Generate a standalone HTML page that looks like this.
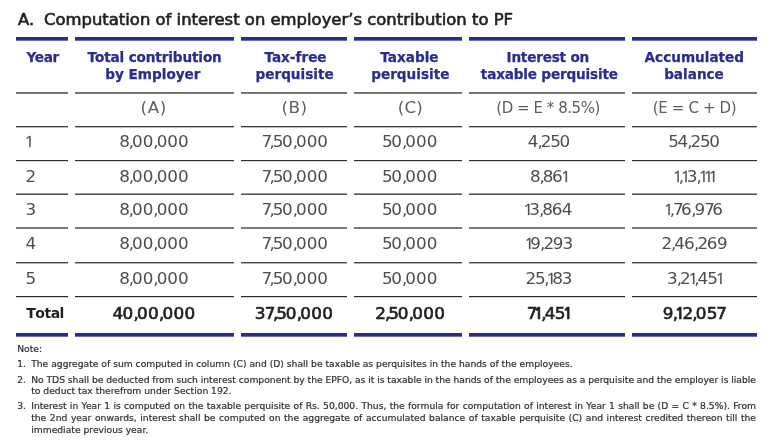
<!DOCTYPE html>
<html lang="en">
<head>
<meta charset="utf-8">
<title>Computation of interest on employer's contribution to PF</title>
<style>
*{margin:0;padding:0;box-sizing:border-box}
html,body{width:768px;height:448px;overflow:hidden;background:#fff}
body{position:relative;font-family:"DejaVu Sans","Liberation Sans",sans-serif;color:#333}
.tx{position:absolute;height:0;line-height:0;white-space:nowrap}
.title{font-size:15px;color:#231f20;letter-spacing:.74px;-webkit-text-stroke:.6px #231f20}
.bar{position:absolute;height:4px;background:linear-gradient(#2a2d90 75%,#6b6db0 75%)}
.ln{position:absolute;height:2px}
.hd{font-weight:700;font-size:13.6px;color:#2b2d8e;-webkit-text-stroke:.25px #2b2d8e}
.lt{font-size:15px;color:#5e5e5e}
.d{font-size:15px;color:#4d4d4d;font-kerning:none}
.tt{font-size:14px;font-weight:700;color:#231f20;font-kerning:none}
.tn{font-size:15px;color:#231f20;font-kerning:none;-webkit-text-stroke:.62px #231f20}
.tn .one{font-weight:700}
.one{font-family:'NanumGothic','Liberation Sans',sans-serif;position:relative;left:-1.3px}
.sx{display:inline-block}
.d .one{-webkit-text-stroke:.3px #4d4d4d}

.nt{font-size:9.2px;color:#2e2e2e;-webkit-text-stroke:.2px #2e2e2e}
.j{white-space:nowrap;text-align:justify;text-align-last:justify}
</style>
</head>
<body>
<div class="tx title" style="left:17.50px;width:40px;top:20.31px;text-align:left"><span class="sx" style="transform:scaleX(1.09);transform-origin:0 0;letter-spacing:0">A.</span></div>
<div class="tx title" style="left:44.30px;width:520px;top:20.31px;text-align:left"><span class="sx" style="transform:scaleX(1.095);transform-origin:0 0;letter-spacing:0">Computation of interest on employer’s contribution to PF</span></div>
<div class="bar" style="left:16px;width:52px;top:37px"></div>
<div class="bar" style="left:75px;width:159px;top:37px"></div>
<div class="bar" style="left:241px;width:106px;top:37px"></div>
<div class="bar" style="left:354px;width:108px;top:37px"></div>
<div class="bar" style="left:469px;width:156px;top:37px"></div>
<div class="bar" style="left:632px;width:125px;top:37px"></div>
<div class="tx hd" style="left:26.50px;width:60px;top:56.79px;text-align:left"><span style="letter-spacing:-.3px">Year</span></div>
<div class="tx hd" style="left:69.63px;width:170px;top:56.79px;text-align:center"><span style="letter-spacing:-0.13px">Total contribution</span></div>
<div class="tx hd" style="left:67.90px;width:170px;top:73.69px;text-align:center"><span style="letter-spacing:0px">by Employer</span></div>
<div class="tx hd" style="left:210.50px;width:170px;top:56.79px;text-align:center"><span style="letter-spacing:0px">Tax-free</span></div>
<div class="tx hd" style="left:209.60px;width:170px;top:73.69px;text-align:center"><span style="letter-spacing:0px">perquisite</span></div>
<div class="tx hd" style="left:324.40px;width:170px;top:56.79px;text-align:center"><span style="letter-spacing:0px">Taxable</span></div>
<div class="tx hd" style="left:325.30px;width:170px;top:73.69px;text-align:center"><span style="letter-spacing:0px">perquisite</span></div>
<div class="tx hd" style="left:462.80px;width:170px;top:56.79px;text-align:center"><span style="letter-spacing:-0.2px">Interest on</span></div>
<div class="tx hd" style="left:464.31px;width:170px;top:73.69px;text-align:center"><span style="letter-spacing:-0.18px">taxable perquisite</span></div>
<div class="tx hd" style="left:609.30px;width:170px;top:56.79px;text-align:center"><span style="letter-spacing:0px">Accumulated</span></div>
<div class="tx hd" style="left:609.00px;width:170px;top:73.69px;text-align:center"><span style="letter-spacing:0px">balance</span></div>
<div class="ln" style="left:16px;width:52px;top:92px;background:linear-gradient(#6a6a6a 50%,#808080 50%)"></div>
<div class="ln" style="left:75px;width:159px;top:92px;background:linear-gradient(#6a6a6a 50%,#808080 50%)"></div>
<div class="ln" style="left:241px;width:106px;top:92px;background:linear-gradient(#6a6a6a 50%,#808080 50%)"></div>
<div class="ln" style="left:354px;width:108px;top:92px;background:linear-gradient(#6a6a6a 50%,#808080 50%)"></div>
<div class="ln" style="left:469px;width:156px;top:92px;background:linear-gradient(#6a6a6a 50%,#808080 50%)"></div>
<div class="ln" style="left:632px;width:125px;top:92px;background:linear-gradient(#6a6a6a 50%,#808080 50%)"></div>
<div class="ln" style="left:16px;width:52px;top:126px;background:linear-gradient(#3e3e3e 50%,#bdbdbd 50%)"></div>
<div class="ln" style="left:75px;width:159px;top:126px;background:linear-gradient(#3e3e3e 50%,#bdbdbd 50%)"></div>
<div class="ln" style="left:241px;width:106px;top:126px;background:linear-gradient(#3e3e3e 50%,#bdbdbd 50%)"></div>
<div class="ln" style="left:354px;width:108px;top:126px;background:linear-gradient(#3e3e3e 50%,#bdbdbd 50%)"></div>
<div class="ln" style="left:469px;width:156px;top:126px;background:linear-gradient(#3e3e3e 50%,#bdbdbd 50%)"></div>
<div class="ln" style="left:632px;width:125px;top:126px;background:linear-gradient(#3e3e3e 50%,#bdbdbd 50%)"></div>
<div class="ln" style="left:16px;width:52px;top:160px;background:linear-gradient(#2c2c2c 50%,#e0e0e0 50%)"></div>
<div class="ln" style="left:75px;width:159px;top:160px;background:linear-gradient(#2c2c2c 50%,#e0e0e0 50%)"></div>
<div class="ln" style="left:241px;width:106px;top:160px;background:linear-gradient(#2c2c2c 50%,#e0e0e0 50%)"></div>
<div class="ln" style="left:354px;width:108px;top:160px;background:linear-gradient(#2c2c2c 50%,#e0e0e0 50%)"></div>
<div class="ln" style="left:469px;width:156px;top:160px;background:linear-gradient(#2c2c2c 50%,#e0e0e0 50%)"></div>
<div class="ln" style="left:632px;width:125px;top:160px;background:linear-gradient(#2c2c2c 50%,#e0e0e0 50%)"></div>
<div class="ln" style="left:16px;width:52px;top:193px;background:linear-gradient(#9a9a9a 50%,#555555 50%)"></div>
<div class="ln" style="left:75px;width:159px;top:193px;background:linear-gradient(#9a9a9a 50%,#555555 50%)"></div>
<div class="ln" style="left:241px;width:106px;top:193px;background:linear-gradient(#9a9a9a 50%,#555555 50%)"></div>
<div class="ln" style="left:354px;width:108px;top:193px;background:linear-gradient(#9a9a9a 50%,#555555 50%)"></div>
<div class="ln" style="left:469px;width:156px;top:193px;background:linear-gradient(#9a9a9a 50%,#555555 50%)"></div>
<div class="ln" style="left:632px;width:125px;top:193px;background:linear-gradient(#9a9a9a 50%,#555555 50%)"></div>
<div class="ln" style="left:16px;width:52px;top:227px;background:linear-gradient(#7a7a7a 50%,#7a7a7a 50%)"></div>
<div class="ln" style="left:75px;width:159px;top:227px;background:linear-gradient(#7a7a7a 50%,#7a7a7a 50%)"></div>
<div class="ln" style="left:241px;width:106px;top:227px;background:linear-gradient(#7a7a7a 50%,#7a7a7a 50%)"></div>
<div class="ln" style="left:354px;width:108px;top:227px;background:linear-gradient(#7a7a7a 50%,#7a7a7a 50%)"></div>
<div class="ln" style="left:469px;width:156px;top:227px;background:linear-gradient(#7a7a7a 50%,#7a7a7a 50%)"></div>
<div class="ln" style="left:632px;width:125px;top:227px;background:linear-gradient(#7a7a7a 50%,#7a7a7a 50%)"></div>
<div class="ln" style="left:16px;width:52px;top:262px;background:linear-gradient(#4a4a4a 50%,#b0b0b0 50%)"></div>
<div class="ln" style="left:75px;width:159px;top:262px;background:linear-gradient(#4a4a4a 50%,#b0b0b0 50%)"></div>
<div class="ln" style="left:241px;width:106px;top:262px;background:linear-gradient(#4a4a4a 50%,#b0b0b0 50%)"></div>
<div class="ln" style="left:354px;width:108px;top:262px;background:linear-gradient(#4a4a4a 50%,#b0b0b0 50%)"></div>
<div class="ln" style="left:469px;width:156px;top:262px;background:linear-gradient(#4a4a4a 50%,#b0b0b0 50%)"></div>
<div class="ln" style="left:632px;width:125px;top:262px;background:linear-gradient(#4a4a4a 50%,#b0b0b0 50%)"></div>
<div class="ln" style="left:16px;width:52px;top:296px;background:linear-gradient(#252525 50%,#d8d8d8 50%)"></div>
<div class="ln" style="left:75px;width:159px;top:296px;background:linear-gradient(#252525 50%,#d8d8d8 50%)"></div>
<div class="ln" style="left:241px;width:106px;top:296px;background:linear-gradient(#252525 50%,#d8d8d8 50%)"></div>
<div class="ln" style="left:354px;width:108px;top:296px;background:linear-gradient(#252525 50%,#d8d8d8 50%)"></div>
<div class="ln" style="left:469px;width:156px;top:296px;background:linear-gradient(#252525 50%,#d8d8d8 50%)"></div>
<div class="ln" style="left:632px;width:125px;top:296px;background:linear-gradient(#252525 50%,#d8d8d8 50%)"></div>
<div class="tx lt" style="left:68.95px;width:170px;top:108.01px;text-align:center"><span class="sx" style="transform:scaleX(1.12);letter-spacing:0.5px">(A)</span></div>
<div class="tx lt" style="left:210.00px;width:170px;top:108.01px;text-align:center"><span class="sx" style="transform:scaleX(1.12);letter-spacing:0.4px">(B)</span></div>
<div class="tx lt" style="left:325.20px;width:170px;top:108.01px;text-align:center"><span class="sx" style="transform:scaleX(1.12);letter-spacing:0.2px">(C)</span></div>
<div class="tx lt" style="left:463.07px;width:170px;top:108.01px;text-align:center"><span class="sx" style="transform:scaleX(1.0);letter-spacing:-0.46px">(D = E * 8.5%)</span></div>
<div class="tx lt" style="left:609.53px;width:170px;top:108.01px;text-align:center"><span class="sx" style="transform:scaleX(1.0);letter-spacing:-0.34px">(E = C + D)</span></div>
<div class="tx d" style="left:26.20px;width:40px;top:141.81px;text-align:left"><span class="sx" style="transform:scaleX(1.12)"><span class="one" style="letter-spacing:-4.76px">1</span></span></div>
<div class="tx d" style="left:68.50px;width:170px;top:141.81px;text-align:center"><span class="sx" style="transform:scaleX(1.12)"><span style="letter-spacing:-1.16px">8</span><span style="letter-spacing:-1.82px">,</span><span style="letter-spacing:-0.01px">00</span><span style="letter-spacing:-1.82px">,</span><span style="letter-spacing:-0.01px">000</span></span></div>
<div class="tx d" style="left:209.50px;width:170px;top:141.81px;text-align:center"><span class="sx" style="transform:scaleX(1.12)"><span style="letter-spacing:-2.43px">7</span><span style="letter-spacing:-1.82px">,</span><span style="letter-spacing:-1.28px">5</span><span style="letter-spacing:-0.01px">0</span><span style="letter-spacing:-1.82px">,</span><span style="letter-spacing:-0.01px">000</span></span></div>
<div class="tx d" style="left:325.00px;width:170px;top:141.81px;text-align:center"><span class="sx" style="transform:scaleX(1.12)"><span style="letter-spacing:-1.28px">5</span><span style="letter-spacing:-0.01px">0</span><span style="letter-spacing:-1.82px">,</span><span style="letter-spacing:-0.01px">000</span></span></div>
<div class="tx d" style="left:463.50px;width:170px;top:141.81px;text-align:center"><span class="sx" style="transform:scaleX(1.12)"><span style="letter-spacing:-0.84px">4</span><span style="letter-spacing:-1.82px">,</span><span style="letter-spacing:-1.18px">2</span><span style="letter-spacing:-1.28px">5</span><span style="letter-spacing:-0.01px">0</span></span></div>
<div class="tx d" style="left:609.00px;width:170px;top:141.81px;text-align:center"><span class="sx" style="transform:scaleX(1.12)"><span style="letter-spacing:-1.28px">5</span><span style="letter-spacing:-0.84px">4</span><span style="letter-spacing:-1.82px">,</span><span style="letter-spacing:-1.18px">2</span><span style="letter-spacing:-1.28px">5</span><span style="letter-spacing:-0.01px">0</span></span></div>
<div class="tx d" style="left:26.20px;width:40px;top:176.81px;text-align:left"><span class="sx" style="transform:scaleX(1.12)"><span style="letter-spacing:-1.18px">2</span></span></div>
<div class="tx d" style="left:68.50px;width:170px;top:176.81px;text-align:center"><span class="sx" style="transform:scaleX(1.12)"><span style="letter-spacing:-1.16px">8</span><span style="letter-spacing:-1.82px">,</span><span style="letter-spacing:-0.01px">00</span><span style="letter-spacing:-1.82px">,</span><span style="letter-spacing:-0.01px">000</span></span></div>
<div class="tx d" style="left:209.50px;width:170px;top:176.81px;text-align:center"><span class="sx" style="transform:scaleX(1.12)"><span style="letter-spacing:-2.43px">7</span><span style="letter-spacing:-1.82px">,</span><span style="letter-spacing:-1.28px">5</span><span style="letter-spacing:-0.01px">0</span><span style="letter-spacing:-1.82px">,</span><span style="letter-spacing:-0.01px">000</span></span></div>
<div class="tx d" style="left:325.00px;width:170px;top:176.81px;text-align:center"><span class="sx" style="transform:scaleX(1.12)"><span style="letter-spacing:-1.28px">5</span><span style="letter-spacing:-0.01px">0</span><span style="letter-spacing:-1.82px">,</span><span style="letter-spacing:-0.01px">000</span></span></div>
<div class="tx d" style="left:463.50px;width:170px;top:176.81px;text-align:center"><span class="sx" style="transform:scaleX(1.12)"><span style="letter-spacing:-1.16px">8</span><span style="letter-spacing:-1.82px">,</span><span style="letter-spacing:-1.16px">8</span><span style="letter-spacing:-0.49px">6</span><span class="one" style="letter-spacing:-4.76px">1</span></span></div>
<div class="tx d" style="left:609.00px;width:170px;top:176.81px;text-align:center"><span class="sx" style="transform:scaleX(1.12)"><span class="one" style="letter-spacing:-4.76px">1</span><span style="letter-spacing:-1.82px">,</span><span class="one" style="letter-spacing:-4.76px">1</span><span style="letter-spacing:-0.96px">3</span><span style="letter-spacing:-1.82px">,</span><span class="one" style="letter-spacing:-4.76px">111</span></span></div>
<div class="tx d" style="left:26.20px;width:40px;top:210.31px;text-align:left"><span class="sx" style="transform:scaleX(1.12)"><span style="letter-spacing:-0.96px">3</span></span></div>
<div class="tx d" style="left:68.50px;width:170px;top:210.31px;text-align:center"><span class="sx" style="transform:scaleX(1.12)"><span style="letter-spacing:-1.16px">8</span><span style="letter-spacing:-1.82px">,</span><span style="letter-spacing:-0.01px">00</span><span style="letter-spacing:-1.82px">,</span><span style="letter-spacing:-0.01px">000</span></span></div>
<div class="tx d" style="left:209.50px;width:170px;top:210.31px;text-align:center"><span class="sx" style="transform:scaleX(1.12)"><span style="letter-spacing:-2.43px">7</span><span style="letter-spacing:-1.82px">,</span><span style="letter-spacing:-1.28px">5</span><span style="letter-spacing:-0.01px">0</span><span style="letter-spacing:-1.82px">,</span><span style="letter-spacing:-0.01px">000</span></span></div>
<div class="tx d" style="left:325.00px;width:170px;top:210.31px;text-align:center"><span class="sx" style="transform:scaleX(1.12)"><span style="letter-spacing:-1.28px">5</span><span style="letter-spacing:-0.01px">0</span><span style="letter-spacing:-1.82px">,</span><span style="letter-spacing:-0.01px">000</span></span></div>
<div class="tx d" style="left:463.50px;width:170px;top:210.31px;text-align:center"><span class="sx" style="transform:scaleX(1.12)"><span class="one" style="letter-spacing:-4.76px">1</span><span style="letter-spacing:-0.96px">3</span><span style="letter-spacing:-1.82px">,</span><span style="letter-spacing:-1.16px">8</span><span style="letter-spacing:-0.49px">6</span><span style="letter-spacing:-0.84px">4</span></span></div>
<div class="tx d" style="left:609.00px;width:170px;top:210.31px;text-align:center"><span class="sx" style="transform:scaleX(1.12)"><span class="one" style="letter-spacing:-4.76px">1</span><span style="letter-spacing:-1.82px">,</span><span style="letter-spacing:-2.43px">7</span><span style="letter-spacing:-0.49px">6</span><span style="letter-spacing:-1.82px">,</span><span style="letter-spacing:-0.87px">9</span><span style="letter-spacing:-2.43px">7</span><span style="letter-spacing:-0.49px">6</span></span></div>
<div class="tx d" style="left:26.20px;width:40px;top:243.81px;text-align:left"><span class="sx" style="transform:scaleX(1.12)"><span style="letter-spacing:-0.84px">4</span></span></div>
<div class="tx d" style="left:68.50px;width:170px;top:243.81px;text-align:center"><span class="sx" style="transform:scaleX(1.12)"><span style="letter-spacing:-1.16px">8</span><span style="letter-spacing:-1.82px">,</span><span style="letter-spacing:-0.01px">00</span><span style="letter-spacing:-1.82px">,</span><span style="letter-spacing:-0.01px">000</span></span></div>
<div class="tx d" style="left:209.50px;width:170px;top:243.81px;text-align:center"><span class="sx" style="transform:scaleX(1.12)"><span style="letter-spacing:-2.43px">7</span><span style="letter-spacing:-1.82px">,</span><span style="letter-spacing:-1.28px">5</span><span style="letter-spacing:-0.01px">0</span><span style="letter-spacing:-1.82px">,</span><span style="letter-spacing:-0.01px">000</span></span></div>
<div class="tx d" style="left:325.00px;width:170px;top:243.81px;text-align:center"><span class="sx" style="transform:scaleX(1.12)"><span style="letter-spacing:-1.28px">5</span><span style="letter-spacing:-0.01px">0</span><span style="letter-spacing:-1.82px">,</span><span style="letter-spacing:-0.01px">000</span></span></div>
<div class="tx d" style="left:463.50px;width:170px;top:243.81px;text-align:center"><span class="sx" style="transform:scaleX(1.12)"><span class="one" style="letter-spacing:-4.76px">1</span><span style="letter-spacing:-0.87px">9</span><span style="letter-spacing:-1.82px">,</span><span style="letter-spacing:-1.18px">2</span><span style="letter-spacing:-0.87px">9</span><span style="letter-spacing:-0.96px">3</span></span></div>
<div class="tx d" style="left:609.00px;width:170px;top:243.81px;text-align:center"><span class="sx" style="transform:scaleX(1.12)"><span style="letter-spacing:-1.18px">2</span><span style="letter-spacing:-1.82px">,</span><span style="letter-spacing:-0.84px">4</span><span style="letter-spacing:-0.49px">6</span><span style="letter-spacing:-1.82px">,</span><span style="letter-spacing:-1.18px">2</span><span style="letter-spacing:-0.49px">6</span><span style="letter-spacing:-0.87px">9</span></span></div>
<div class="tx d" style="left:26.20px;width:40px;top:279.01px;text-align:left"><span class="sx" style="transform:scaleX(1.12)"><span style="letter-spacing:-1.28px">5</span></span></div>
<div class="tx d" style="left:68.50px;width:170px;top:279.01px;text-align:center"><span class="sx" style="transform:scaleX(1.12)"><span style="letter-spacing:-1.16px">8</span><span style="letter-spacing:-1.82px">,</span><span style="letter-spacing:-0.01px">00</span><span style="letter-spacing:-1.82px">,</span><span style="letter-spacing:-0.01px">000</span></span></div>
<div class="tx d" style="left:209.50px;width:170px;top:279.01px;text-align:center"><span class="sx" style="transform:scaleX(1.12)"><span style="letter-spacing:-2.43px">7</span><span style="letter-spacing:-1.82px">,</span><span style="letter-spacing:-1.28px">5</span><span style="letter-spacing:-0.01px">0</span><span style="letter-spacing:-1.82px">,</span><span style="letter-spacing:-0.01px">000</span></span></div>
<div class="tx d" style="left:325.00px;width:170px;top:279.01px;text-align:center"><span class="sx" style="transform:scaleX(1.12)"><span style="letter-spacing:-1.28px">5</span><span style="letter-spacing:-0.01px">0</span><span style="letter-spacing:-1.82px">,</span><span style="letter-spacing:-0.01px">000</span></span></div>
<div class="tx d" style="left:463.50px;width:170px;top:279.01px;text-align:center"><span class="sx" style="transform:scaleX(1.12)"><span style="letter-spacing:-1.18px">2</span><span style="letter-spacing:-1.28px">5</span><span style="letter-spacing:-1.82px">,</span><span class="one" style="letter-spacing:-4.76px">1</span><span style="letter-spacing:-1.16px">8</span><span style="letter-spacing:-0.96px">3</span></span></div>
<div class="tx d" style="left:609.00px;width:170px;top:279.01px;text-align:center"><span class="sx" style="transform:scaleX(1.12)"><span style="letter-spacing:-0.96px">3</span><span style="letter-spacing:-1.82px">,</span><span style="letter-spacing:-1.18px">2</span><span class="one" style="letter-spacing:-4.76px">1</span><span style="letter-spacing:-1.82px">,</span><span style="letter-spacing:-0.84px">4</span><span style="letter-spacing:-1.28px">5</span><span class="one" style="letter-spacing:-4.76px">1</span></span></div>
<div class="tx tt" style="left:26.30px;width:60px;top:313.16px;text-align:left"><span style="letter-spacing:-.5px">Total</span></div>
<div class="tx tn" style="left:68.50px;width:170px;top:313.51px;text-align:center"><span class="sx" style="transform:scaleX(1.12)"><span style="letter-spacing:-0.59px">4</span><span style="letter-spacing:0.28px">0</span><span style="letter-spacing:-1.74px">,</span><span style="letter-spacing:0.28px">00</span><span style="letter-spacing:-1.74px">,</span><span style="letter-spacing:0.28px">000</span></span></div>
<div class="tx tn" style="left:209.50px;width:170px;top:313.51px;text-align:center"><span class="sx" style="transform:scaleX(1.12)"><span style="letter-spacing:-0.71px">3</span><span style="letter-spacing:-2.22px">7</span><span style="letter-spacing:-1.74px">,</span><span style="letter-spacing:-1.04px">5</span><span style="letter-spacing:0.28px">0</span><span style="letter-spacing:-1.74px">,</span><span style="letter-spacing:0.28px">000</span></span></div>
<div class="tx tn" style="left:325.00px;width:170px;top:313.51px;text-align:center"><span class="sx" style="transform:scaleX(1.12)"><span style="letter-spacing:-0.93px">2</span><span style="letter-spacing:-1.74px">,</span><span style="letter-spacing:-1.04px">5</span><span style="letter-spacing:0.28px">0</span><span style="letter-spacing:-1.74px">,</span><span style="letter-spacing:0.28px">000</span></span></div>
<div class="tx tn" style="left:463.50px;width:170px;top:313.51px;text-align:center"><span class="sx" style="transform:scaleX(1.12)"><span style="letter-spacing:-2.22px">7</span><span class="one" style="letter-spacing:-3.29px">1</span><span style="letter-spacing:-1.74px">,</span><span style="letter-spacing:-0.59px">4</span><span style="letter-spacing:-1.04px">5</span><span class="one" style="letter-spacing:-3.29px">1</span></span></div>
<div class="tx tn" style="left:609.00px;width:170px;top:313.51px;text-align:center"><span class="sx" style="transform:scaleX(1.12)"><span style="letter-spacing:-0.62px">9</span><span style="letter-spacing:-1.74px">,</span><span class="one" style="letter-spacing:-3.29px">1</span><span style="letter-spacing:-0.93px">2</span><span style="letter-spacing:-1.74px">,</span><span style="letter-spacing:0.28px">0</span><span style="letter-spacing:-1.04px">5</span><span style="letter-spacing:-2.22px">7</span></span></div>
<div class="bar" style="left:16px;width:52px;top:333px"></div>
<div class="bar" style="left:75px;width:159px;top:333px"></div>
<div class="bar" style="left:241px;width:106px;top:333px"></div>
<div class="bar" style="left:354px;width:108px;top:333px"></div>
<div class="bar" style="left:469px;width:156px;top:333px"></div>
<div class="bar" style="left:632px;width:125px;top:333px"></div>
<div class="tx nt" style="left:17.2px;width:738.8px;top:349.32px">Note:</div>
<div class="tx nt" style="left:17.2px;width:738.8px;top:363.82px">1.</div>
<div class="tx nt" style="left:31.2px;width:724.8px;top:363.82px">The aggregate of sum computed in column (C) and (D) shall be taxable as perquisites in the hands of the employees.</div>
<div class="tx nt" style="left:17.2px;width:738.8px;top:379.62px">2.</div>
<div class="tx nt j" style="left:31.2px;width:724.8px;top:379.62px;word-spacing:-.2px">No TDS shall be deducted from such interest component by the EPFO, as it is taxable in the hands of the employees as a perquisite and the employer is liable</div>
<div class="tx nt" style="left:31.2px;width:724.8px;top:391.32px">to deduct tax therefrom under Section 192.</div>
<div class="tx nt" style="left:17.2px;width:738.8px;top:406.22px">3.</div>
<div class="tx nt j" style="left:31.2px;width:724.8px;top:406.22px">Interest in Year 1 is computed on the taxable perquisite of Rs. 50,000. Thus, the formula for computation of interest in Year 1 shall be (D = C * 8.5%). From</div>
<div class="tx nt j" style="left:31.2px;width:724.8px;top:418.02px">the 2nd year onwards, interest shall be computed on the aggregate of accumulated balance of taxable perquisite (C) and interest credited thereon till the</div>
<div class="tx nt" style="left:31.2px;width:724.8px;top:429.72px">immediate previous year.</div>
</body>
</html>
